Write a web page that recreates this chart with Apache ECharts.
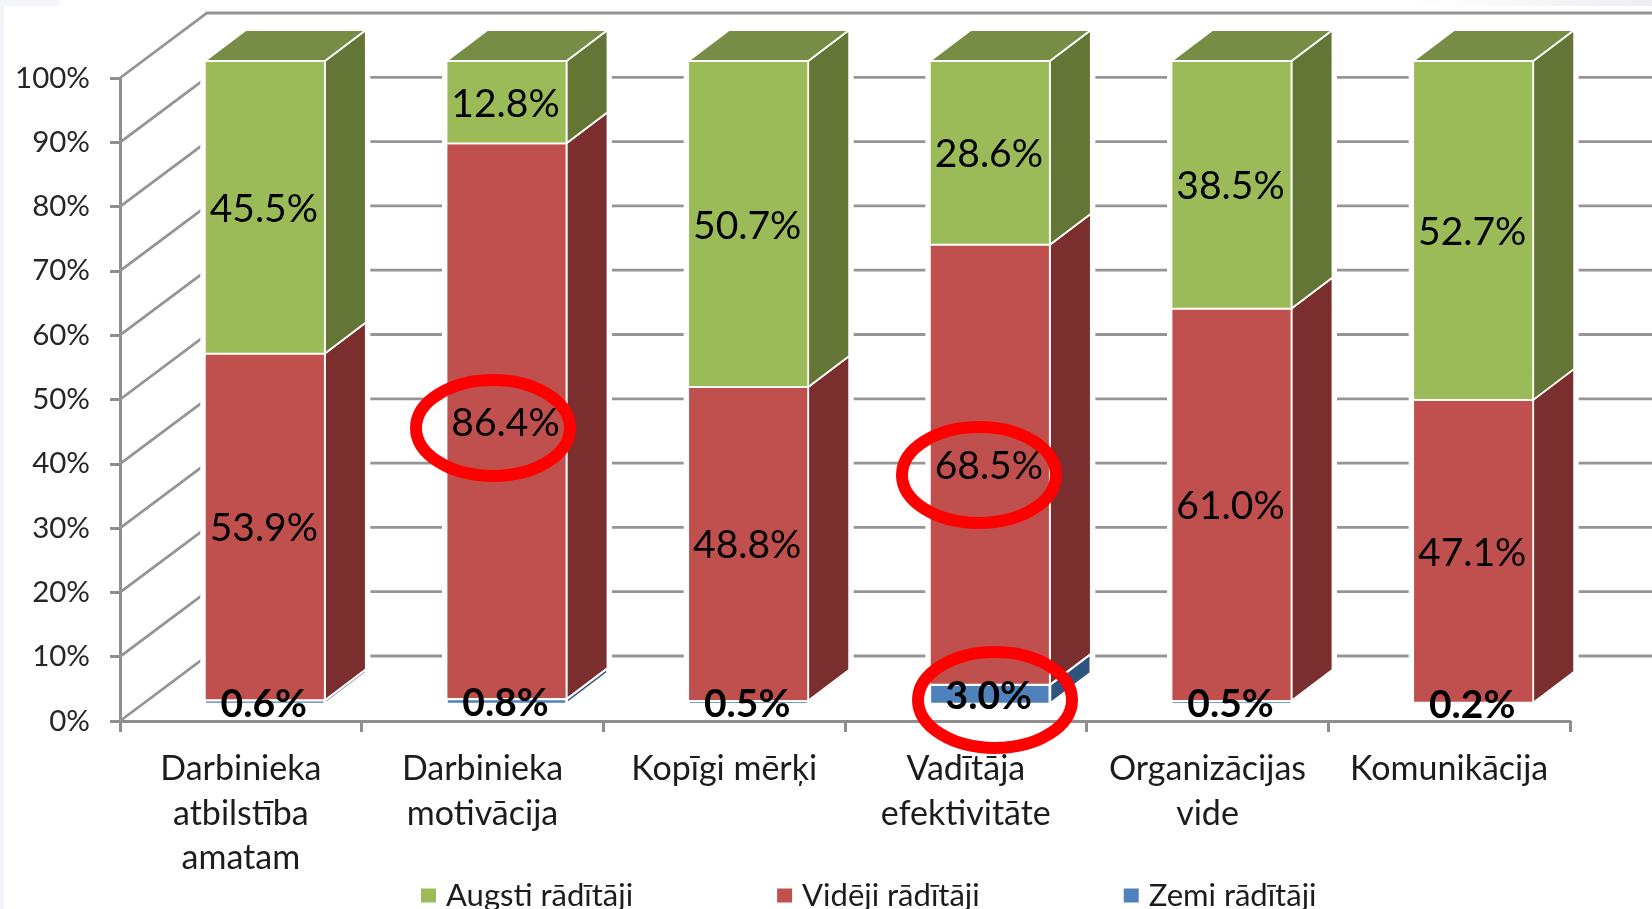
<!DOCTYPE html>
<html>
<head>
<meta charset="utf-8">
<style>html,body{margin:0;padding:0;background:#fff}#c{width:1652px;height:909px}</style>
<script src="https://cdn.jsdelivr.net/npm/echarts@6/dist/echarts.min.js"></script>
</head>
<body>
<div id="c"></div>
<script>
const categories = ['Darbinieka\natbilstība\namatam', 'Darbinieka\nmotivācija', 'Kopīgi mērķi', 'Vadītāja\nefektivitāte', 'Organizācijas\nvide', 'Komunikācija'];
const zemi = [0.6, 0.8, 0.5, 3.0, 0.5, 0.2];
const videji = [53.9, 86.4, 48.8, 68.5, 61.0, 47.1];
const augsti = [45.5, 12.8, 50.7, 28.6, 38.5, 52.7];
const yTicks = [0, 10, 20, 30, 40, 50, 60, 70, 80, 90, 100];

const FONT = 'Lato';
const chart = echarts.init(document.getElementById('c'), null, {renderer: 'canvas'});

const stackParts = [
  {name: 'Zemi rādītāji', values: zemi, front: '#4F81BD', side: '#2F5480', top: '#3F6797', labelWeight: 'bold', edgeWidth: 2.6},
  {name: 'Vidēji rādītāji', values: videji, front: '#C0504D', side: '#7A2F2E', top: '#963F3C', labelWeight: 'normal', edgeWidth: 1.8},
  {name: 'Augsti rādītāji', values: augsti, front: '#9BBB59', side: '#637636', top: '#778D45', labelWeight: 'normal', edgeWidth: 1.8}
];
const totals = categories.map((_, i) => zemi[i] + videji[i] + augsti[i]);
function lowerSum(partIdx, i) {
  let s = 0;
  for (let k = 0; k < partIdx; k++) s += stackParts[k].values[i];
  return s;
}

// offset of the bars from the axis plane and their depth, in pixels
const BAR_W = 120, OFF_X = 24, OFF_Y = -17, D_X = 41, D_Y = -31;
const WALL_X = 87, WALL_Y = -65;

function barRect(api, i, from, to) {
  const a = api.coord([i, from / totals[i] * 100]);
  const b = api.coord([i, to / totals[i] * 100]);
  return {x0: a[0] + OFF_X - BAR_W / 2, x1: a[0] + OFF_X + BAR_W / 2, yb: a[1] + OFF_Y, yt: b[1] + OFF_Y};
}

const wallSeries = {
  type: 'custom', silent: true, z: 1,
  data: yTicks.map(v => [v]),
  encode: {y: 0},
  renderItem(params, api) {
    const band = api.size([1, 0])[0];
    const c = api.coord([0, api.value(0)]);
    const last = api.coord([categories.length - 1, api.value(0)]);
    const x0 = c[0] - band / 2, y0 = c[1];
    return {
      type: 'polyline',
      shape: {points: [[x0, y0], [x0 + WALL_X, y0 + WALL_Y], [last[0] + band / 2 + WALL_X, y0 + WALL_Y]]},
      style: {stroke: '#959595', lineWidth: 2.8, fill: null}
    };
  }
};

const haloSeries = {
  type: 'custom', silent: true, z: 2,
  data: categories.map((_, i) => [i]),
  encode: {x: 0},
  renderItem(params, api) {
    const i = api.value(0);
    const r = barRect(api, i, 0, totals[i]);
    return {
      type: 'polygon',
      shape: {points: [[r.x0, r.yb], [r.x0, r.yt], [r.x0 + D_X, r.yt + D_Y], [r.x1 + D_X, r.yt + D_Y], [r.x1 + D_X, r.yb + D_Y], [r.x1, r.yb]]},
      style: {fill: '#fff', stroke: '#fff', lineWidth: 9, lineJoin: 'miter'}
    };
  }
};

const barSeries = stackParts.map((part, p) => ({
  type: 'custom', name: part.name, silent: true, z: 3 + p,
  itemStyle: {color: part.front},
  data: part.values.map((v, i) => [i, v]),
  encode: {x: 0, y: 1},
  renderItem(params, api) {
    const i = api.value(0);
    const lo = lowerSum(p, i);
    const r = barRect(api, i, lo, lo + api.value(1));
    const edge = {stroke: '#fff', lineWidth: part.edgeWidth, lineJoin: 'round'};
    const children = [
      {type: 'polygon', shape: {points: [[r.x1, r.yb], [r.x1, r.yt], [r.x1 + D_X, r.yt + D_Y], [r.x1 + D_X, r.yb + D_Y]]},
        style: Object.assign({fill: part.side}, edge)},
      {type: 'rect', shape: {x: r.x0, y: r.yt, width: BAR_W, height: r.yb - r.yt},
        style: Object.assign({fill: part.front}, edge)}
    ];
    if (p === stackParts.length - 1) {
      children.push({type: 'polygon', shape: {points: [[r.x0, r.yt], [r.x0 + D_X, r.yt + D_Y], [r.x1 + D_X, r.yt + D_Y], [r.x1, r.yt]]},
        style: Object.assign({fill: part.top}, edge)});
    }
    return {type: 'group', children};
  }
}));

const labelSeries = stackParts.map((part, p) => ({
  type: 'custom', silent: true, z: 10,
  data: part.values.map((v, i) => [i, v]),
  encode: {x: 0, y: 1},
  renderItem(params, api) {
    const i = api.value(0), v = api.value(1);
    const lo = lowerSum(p, i);
    const r = barRect(api, i, lo, lo + v);
    return {
      type: 'text',
      style: {
        x: (r.x0 + r.x1) / 2 - 1, y: (r.yb + r.yt) / 2 + 2,
        text: v.toFixed(1) + '%', align: 'center', verticalAlign: 'middle',
        font: part.labelWeight + ' 39px ' + FONT, fill: '#000'
      }
    };
  }
}));

chart.setOption({
  animation: false,
  backgroundColor: '#fff',
  grid: {left: 120, right: 82, top: 78, bottom: 188, containLabel: false},
  xAxis: {
    type: 'category', data: categories,
    axisLine: {lineStyle: {color: '#8E8E8E', width: 3}},
    axisTick: {show: true, alignWithLabel: false, length: 11, lineStyle: {color: '#8E8E8E', width: 3}},
    axisLabel: {color: '#1c1c1c', fontFamily: FONT, fontSize: 34, lineHeight: 44.5, margin: 26, interval: 0},
    splitLine: {show: false}
  },
  yAxis: {
    type: 'value', min: 0, max: 100, interval: 10,
    axisLine: {show: true, lineStyle: {color: '#8E8E8E', width: 3}},
    axisTick: {show: true, length: 10, lineStyle: {color: '#8E8E8E', width: 3}},
    axisLabel: {formatter: '{value}%', color: '#262626', fontFamily: FONT, fontSize: 29.5, margin: 30, padding: [3, 0, 0, 0]},
    splitLine: {show: false}
  },
  legend: {
    data: ['Augsti rādītāji', 'Vidēji rādītāji', 'Zemi rādītāji'],
    left: 421, top: 880, orient: 'horizontal',
    icon: 'rect', itemWidth: 15, itemHeight: 14, itemGap: 144,
    textStyle: {color: '#1c1c1c', fontFamily: FONT, fontSize: 31, padding: [0, 0, 0, 5]},
    selectedMode: false, padding: 0
  },
  graphic: [
    {type: 'rect', z: 0, shape: {x: 0, y: 0, width: 4, height: 909}, style: {fill: '#F3F4F8'}},
    {type: 'rect', z: 0, shape: {x: 0, y: 0, width: 60, height: 6}, style: {fill: '#F5F6F9'}},
    {type: 'rect', z: 0, shape: {x: 1410, y: 0, width: 242, height: 6},
      style: {fill: new echarts.graphic.LinearGradient(0, 0, 1, 0, [{offset: 0, color: '#fff'}, {offset: 1, color: '#EDEEF2'}])}},
    {type: 'ellipse', z: 50, shape: {cx: 493, cy: 428, rx: 77, ry: 48}, style: {fill: null, stroke: '#FF0000', lineWidth: 12}},
    {type: 'ellipse', z: 50, shape: {cx: 979, cy: 475, rx: 77, ry: 48}, style: {fill: null, stroke: '#FF0000', lineWidth: 12}},
    {type: 'ellipse', z: 50, shape: {cx: 995, cy: 700, rx: 77, ry: 48}, style: {fill: null, stroke: '#FF0000', lineWidth: 12}}
  ],
  series: [wallSeries, haloSeries].concat(barSeries, labelSeries)
});
</script>
</body>
</html>
